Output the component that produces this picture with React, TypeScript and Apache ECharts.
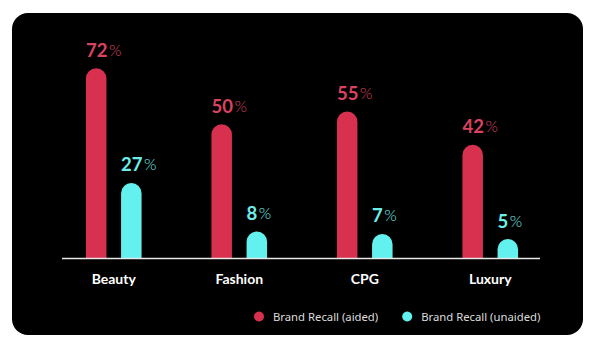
import React, { useEffect, useRef } from "react";
import * as echarts from "echarts";

const categories = ["Beauty", "Fashion", "CPG", "Luxury"];
const aided = [72, 50, 55, 42];
const unaided = [27, 8, 7, 5];
const seriesNames = ["Brand Recall (aided)", "Brand Recall (unaided)"];

const RED = "#D7314F";
const CYAN = "#62F1EE";
const RED_LABEL = "#DA4360";
const CYAN_LABEL = "#6CEDEA";
const FONT = "Lato, 'Noto Sans', sans-serif";

function makeSeries(name: string, values: number[], side: number, color: string, labelColor: string) {
  return {
    name,
    type: "custom",
    data: values.map((v, i) => [i, v]),
    itemStyle: { color },
    renderItem: (params: any, api: any) => {
      const idx = api.value(0);
      const val = api.value(1);
      const top = api.coord([idx, val]);
      const base = api.coord([idx, 0]);
      const band = api.size([1, 0])[0];
      const w = 20.5;
      const cx = top[0] + side * band * 0.14;
      const cap = 6.7;
      const x = cx - w / 2;
      const y = top[1] - cap;
      const h = base[1] - y;
      return {
        type: "group",
        children: [
          {
            type: "rect",
            shape: { x, y, width: w, height: h, r: [w / 2, w / 2, 0, 0] },
            style: { fill: color },
          },
          {
            type: "text",
            x: x,
            y: y - 9,
            style: {
              text: `{a|${val}}{b|%}`,
              verticalAlign: "bottom",
              align: "left",
              rich: {
                a: { fontSize: 18.5, fontWeight: "bold", fill: labelColor, fontFamily: FONT },
                b: { fontSize: 16, fontWeight: 300, fill: labelColor, fontFamily: FONT, padding: [0, 0, 1, 1.5] },
              },
            },
          },
        ],
      };
    },
  };
}

export default function App() {
  const ref = useRef<HTMLDivElement>(null);
  useEffect(() => {
    document.body.style.margin = "0";
    const chart = echarts.init(ref.current!, null, { renderer: "svg" });
    chart.setOption({
      animation: false,
      backgroundColor: "#ffffff",
      graphic: [
        {
          type: "rect",
          z: -10,
          shape: { x: 12, y: 13, width: 571, height: 322, r: 16 },
          style: { fill: "#000000" },
        },
        {
          type: "line",
          z: 10,
          shape: { x1: 62, y1: 258.5, x2: 540, y2: 258.5 },
          style: { stroke: "#e8e8e8", lineWidth: 1.5 },
        },
      ],
      grid: { left: 51, right: 47, top: 54.5, bottom: 95.5 },
      legend: {
        left: 249,
        top: 306,
        icon: "circle",
        itemWidth: 18,
        itemHeight: 10,
        itemGap: 24,
        textStyle: { color: "#dddddd", fontSize: 11.3, fontFamily: "'Noto Sans', sans-serif" },
        data: [
          { name: seriesNames[0], itemStyle: { color: RED } },
          { name: seriesNames[1], itemStyle: { color: CYAN } },
        ],
      },
      xAxis: {
        type: "category",
        data: categories,
        axisLine: { show: false },
        axisTick: { show: false },
        axisLabel: {
          color: "#ffffff",
          fontSize: 14,
          fontWeight: "bold",
          fontFamily: FONT,
          margin: 13,
        },
      },
      yAxis: {
        type: "value",
        min: 0,
        max: 80,
        show: false,
        splitLine: { show: false },
      },
      series: [
        makeSeries(seriesNames[0], aided, -1, RED, RED_LABEL),
        makeSeries(seriesNames[1], unaided, 1, CYAN, CYAN_LABEL),
      ],
    });
    return () => chart.dispose();
  }, []);
  return <div ref={ref} style={{ width: 600, height: 354 }} />;
}
